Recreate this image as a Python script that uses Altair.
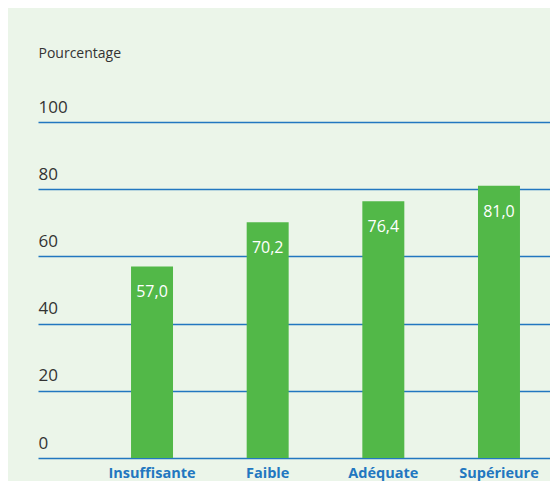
import altair as alt
import pandas as pd

categories = ["Insuffisante", "Faible", "Adéquate", "Supérieure"]
values = [57.0, 70.2, 76.4, 81.0]
labels = ["57,0", "70,2", "76,4", "81,0"]
y_ticks = [0, 20, 40, 60, 80, 100]

df = pd.DataFrame({"cat": categories, "val": values, "lab": labels})

FONT = "Open Sans"
BG = "#ebf5e9"
GREEN = "#52b848"
BLUE = "#2277c0"

x = alt.X("cat:N", sort=categories, title=None,
          scale=alt.Scale(paddingInner=0.637, paddingOuter=0.532, align=0.756),
          axis=alt.Axis(labelAngle=0, labelFont=FONT, labelFontSize=14.5, labelFontWeight="bold",
                        labelColor=BLUE, labelPadding=8, domain=False, ticks=False))

y = alt.Y("val:Q", title="Pourcentage",
          scale=alt.Scale(domain=[0, 100], nice=False),
          axis=alt.Axis(values=y_ticks, grid=True, gridColor=BLUE, gridWidth=1.5, gridOpacity=1,
                        domain=False, ticks=False, tickSize=0, labelAlign="left", labelBaseline="bottom",
                        labelPadding=0, labelOffset=-6, labelFont=FONT, labelFontSize=17,
                        labelColor="#333333", titleAngle=0, titleX=0, titleY=-65,
                        titleAlign="left", titleBaseline="alphabetic", titleFont=FONT,
                        titleFontSize=14, titleFontWeight="normal", titleColor="#333333"))

bars = alt.Chart(df).mark_bar(color=GREEN).encode(x=x, y=y)
text = alt.Chart(df).mark_text(color="white", font=FONT, fontSize=16, baseline="middle", dy=26).encode(
    x=alt.X("cat:N", sort=categories), y="val:Q", text="lab:N")

chart = (bars + text).properties(
    width=512, height=336,
    background=BG,
    padding={"left": 30, "top": 114, "right": 0, "bottom": 23},
    autosize=alt.AutoSizeParams(type="none"),
).configure_view(stroke=None)

chart.save("out.html", embed_options={"renderer": "svg", "actions": False})
